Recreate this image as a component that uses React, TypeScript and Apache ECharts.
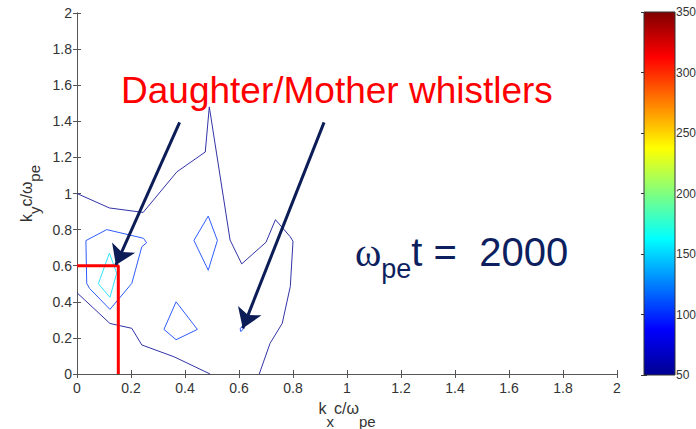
import { useEffect, useRef } from "react";
import * as echarts from "echarts";

// ---- data ----
const axisTicks = [0, 0.2, 0.4, 0.6, 0.8, 1, 1.2, 1.4, 1.6, 1.8, 2];
const colorbarTicks = [50, 100, 150, 200, 250, 300, 350];

// outermost contour level (upper branch)
const level1Upper: [number, number][] = [
  [0, 1.0], [0.12, 0.92], [0.245, 0.895], [0.37, 1.12], [0.475, 1.23], [0.49, 1.48],
  [0.567, 0.742], [0.61, 0.61], [0.70, 0.73], [0.735, 0.855], [0.79, 0.76], [0.80, 0.735],
  [0.79, 0.485], [0.76, 0.28], [0.715, 0.17], [0.675, 0],
];
// outermost contour level (lower-left branch)
const level1Lower: [number, number][] = [
  [0, 0.45], [0.122, 0.28], [0.203, 0.253], [0.24, 0.161], [0.36, 0.095], [0.493, 0],
];
// second contour level
const level2Left: [number, number][] = [
  [0.033, 0.739], [0.11, 0.80], [0.246, 0.752], [0.258, 0.727], [0.24, 0.705], [0.203, 0.502],
  [0.122, 0.358], [0.046, 0.475], [0.036, 0.502], [0.033, 0.739],
];
const level2Diamond: [number, number][] = [
  [0.486, 0.875], [0.52, 0.74], [0.486, 0.575], [0.433, 0.74], [0.486, 0.875],
];
const level2Triangle: [number, number][] = [
  [0.367, 0.40], [0.446, 0.247], [0.367, 0.19], [0.322, 0.247], [0.367, 0.40],
];
const level2Small: [number, number][] = [
  [0.604, 0.25], [0.615, 0.27], [0.616, 0.25], [0.607, 0.235], [0.604, 0.25],
];
// third contour level
const level3: [number, number][] = [
  [0.12, 0.67], [0.147, 0.558], [0.122, 0.425], [0.079, 0.5], [0.12, 0.67],
];
// red marker at (kx, ky)
const markerX = 0.153;
const markerY = 0.6;
// annotation arrows [start, tip]
const arrows: [number, number][][] = [
  [[0.38, 1.394], [0.144, 0.604]],
  [[0.915, 1.394], [0.614, 0.253]],
];
const colorbarRange: [number, number] = [50, 350];

const jetStops = [
  { offset: 0, color: "#800000" },
  { offset: 0.125, color: "#ff0000" },
  { offset: 0.375, color: "#ffff00" },
  { offset: 0.625, color: "#00ffff" },
  { offset: 0.875, color: "#0000ff" },
  { offset: 1, color: "#000090" },
];

const SANS = "'Liberation Sans', Arial, sans-serif";

export default function App() {
  const ref = useRef<HTMLDivElement>(null);

  useEffect(() => {
    const chart = echarts.init(ref.current!, null, { renderer: "svg" });

    const axisLineStyle = { color: "#555", width: 1 };
    const labelStyle = { color: "#333", fontSize: 14, fontFamily: SANS };
    const tickMin = axisTicks[0];
    const tickMax = axisTicks[axisTicks.length - 1];
    const tickInterval = axisTicks[1] - axisTicks[0];

    const contour = (data: [number, number][], color: string) => ({
      type: "line",
      xAxisIndex: 0,
      yAxisIndex: 0,
      data,
      symbol: "none",
      showSymbol: false,
      silent: true,
      lineStyle: { color, width: 1 },
      z: 3,
    });

    // main glyphs top-aligned; subscripts bottom-aligned in a taller line box
    const nameRich = (lineBox: number) => ({
      m: { fontSize: 16, fontFamily: SANS, color: "#333", lineHeight: 16, verticalAlign: "top" },
      s: { fontSize: 15, fontFamily: SANS, color: "#333", lineHeight: lineBox, verticalAlign: "bottom" },
    });

    const option: any = {
      animation: false,
      backgroundColor: "#fff",
      grid: [
        { left: 77, top: 13, width: 540, height: 361, containLabel: false, outerBoundsMode: "none" },
        { left: 644, top: 12, width: 31, height: 363, containLabel: false, outerBoundsMode: "none" },
      ],
      xAxis: [
        {
          type: "value", gridIndex: 0, position: "bottom", min: tickMin, max: tickMax, interval: tickInterval,
          axisLine: { show: true, lineStyle: axisLineStyle },
          axisTick: { show: true, inside: true, length: 4, lineStyle: axisLineStyle },
          axisLabel: { ...labelStyle, margin: 7 },
          splitLine: { show: false },
          name: "{m|k}{s|x}{m|c/ω}{s|pe}",
          nameLocation: "middle",
          nameGap: 26,
          nameMoveOverlap: false,
          nameTextStyle: { rich: nameRich(29) },
        },
        {
          type: "value", gridIndex: 0, position: "top", min: tickMin, max: tickMax, interval: tickInterval,
          axisLine: { show: true, lineStyle: axisLineStyle },
          axisTick: { show: true, inside: true, length: 4, lineStyle: axisLineStyle },
          axisLabel: { show: false },
          splitLine: { show: false },
        },
        { type: "value", gridIndex: 1, min: 0, max: 1, show: false },
      ],
      yAxis: [
        {
          type: "value", gridIndex: 0, position: "left", min: tickMin, max: tickMax, interval: tickInterval,
          axisLine: { show: true, lineStyle: axisLineStyle },
          axisTick: { show: true, inside: true, length: 4, lineStyle: axisLineStyle },
          axisLabel: { ...labelStyle, margin: 5 },
          splitLine: { show: false },
          name: "{m|k}{s|y}{m|c/ω}{s|pe}",
          nameLocation: "middle",
          nameGap: 35,
          nameMoveOverlap: false,
          nameTextStyle: { rich: nameRich(24) },
        },
        {
          type: "value", gridIndex: 0, position: "right", min: tickMin, max: tickMax, interval: tickInterval,
          axisLine: { show: true, lineStyle: axisLineStyle },
          axisTick: { show: true, inside: true, length: 4, lineStyle: axisLineStyle },
          axisLabel: { show: false },
          splitLine: { show: false },
        },
        {
          type: "value", gridIndex: 1, position: "right",
          min: colorbarTicks[0], max: colorbarTicks[colorbarTicks.length - 1],
          interval: colorbarTicks[1] - colorbarTicks[0],
          axisLine: { show: false },
          axisTick: { show: true, inside: true, length: 3, lineStyle: { color: "#333" } },
          axisLabel: { color: "#333", fontSize: 12, fontFamily: SANS, margin: 1 },
          splitLine: { show: false },
        },
        {
          type: "value", gridIndex: 1, position: "left",
          min: colorbarTicks[0], max: colorbarTicks[colorbarTicks.length - 1],
          interval: colorbarTicks[1] - colorbarTicks[0],
          axisLine: { show: false },
          axisTick: { show: true, inside: true, length: 3, lineStyle: { color: "#333" } },
          axisLabel: { show: false },
          splitLine: { show: false },
        },
      ],
      series: [
        contour(level1Upper, "#3333a6"),
        contour(level1Lower, "#3333a6"),
        contour(level2Left, "#2f5cff"),
        contour(level2Diamond, "#2f5cff"),
        contour(level2Triangle, "#2f5cff"),
        contour(level2Small, "#2f5cff"),
        contour(level3, "#30e4ff"),
        {
          type: "line",
          xAxisIndex: 0,
          yAxisIndex: 0,
          data: [[0, markerY], [markerX, markerY], [markerX, 0]],
          symbol: "none",
          silent: true,
          clip: false,
          lineStyle: { color: "#ff0000", width: 3 },
          z: 4,
        },
        {
          type: "lines",
          coordinateSystem: "cartesian2d",
          xAxisIndex: 0,
          yAxisIndex: 0,
          symbol: ["none", "arrow"],
          symbolSize: [15, 19],
          silent: true,
          lineStyle: { color: "#0b1c57", width: 3, opacity: 1, curveness: 0 },
          data: arrows.map((a) => ({ coords: a })),
          z: 5,
        },
        {
          type: "custom",
          xAxisIndex: 2,
          yAxisIndex: 2,
          silent: true,
          data: [[0, colorbarRange[0], 1, colorbarRange[1]]],
          renderItem: (_params: any, api: any) => {
            const p0 = api.coord([api.value(0), api.value(3)]);
            const p1 = api.coord([api.value(2), api.value(1)]);
            return {
              type: "rect",
              shape: { x: p0[0], y: p0[1], width: p1[0] - p0[0], height: p1[1] - p0[1] },
              style: {
                fill: new echarts.graphic.LinearGradient(0, 0, 0, 1, jetStops),
                stroke: "#333",
                lineWidth: 1,
              },
            };
          },
        },
      ],
      graphic: [
        {
          type: "text",
          x: 121,
          y: 90,
          silent: true,
          style: {
            text: "Daughter/Mother whistlers",
            fill: "#ff0000",
            fontSize: 37,
            fontFamily: SANS,
            align: "left",
            verticalAlign: "middle",
          },
        },
        {
          type: "text",
          x: 355,
          y: 232,
          silent: true,
          style: {
            text: "{w|ω}{s|pe}{n|t =\u00a0 2000}",
            fill: "#0d1f5e",
            align: "left",
            verticalAlign: "top",
            rich: {
              w: { fontSize: 40, fontFamily: "'Liberation Serif', serif", fill: "#0d1f5e", lineHeight: 40, verticalAlign: "top" },
              s: { fontSize: 27, fontFamily: SANS, fill: "#0d1f5e", lineHeight: 50, verticalAlign: "bottom" },
              n: { fontSize: 40, fontFamily: SANS, fill: "#0d1f5e", lineHeight: 40, verticalAlign: "top" },
            },
          },
        },
      ],
    };

    chart.setOption(option);
    return () => chart.dispose();
  }, []);

  return (
    <div
      ref={ref}
      style={{ position: "absolute", left: 0, top: 0, width: 696, height: 429, background: "#fff" }}
    />
  );
}
